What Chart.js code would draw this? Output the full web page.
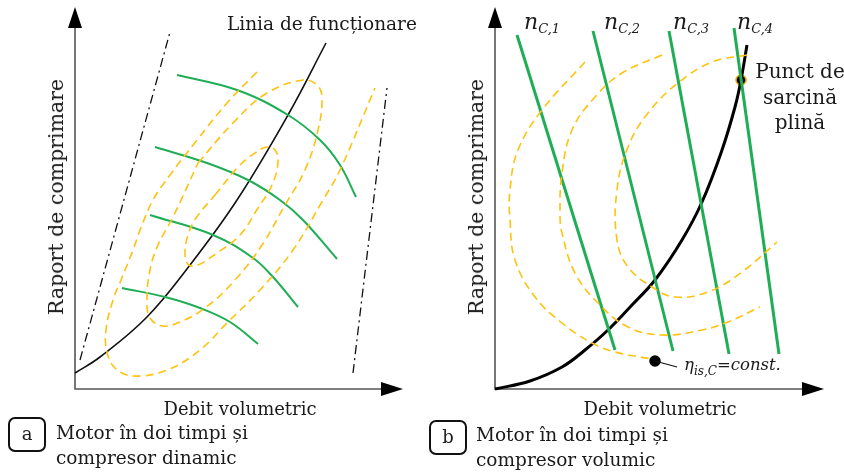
<!DOCTYPE html>
<html>
<head>
<meta charset="utf-8">
<script src="https://cdn.jsdelivr.net/npm/chart.js@4.4.0/dist/chart.umd.min.js"></script>
<style>
  body { margin: 0; background: #fff; }
  #wrap { position: relative; width: 844px; height: 473px; font-family: "DejaVu Serif", serif; color: #1a1a1a; }
  canvas { position: absolute; top: 0; }
  .t { position: absolute; white-space: nowrap; line-height: 24px; }
  .ytitle { position: absolute; white-space: nowrap; font-size: 20.5px; transform: translate(-50%, -50%) rotate(-90deg); }
  .xtitle { position: absolute; white-space: nowrap; font-size: 18px; transform: translate(-50%, -50%); }
  .box { position: absolute; width: 34px; height: 31px; border: 2px solid #111; border-radius: 7px; text-align: center; line-height: 30px; font-size: 18px; }
  .cap { position: absolute; white-space: nowrap; font-size: 18.5px; line-height: 25px; }
  .n { position: absolute; font-style: italic; font-size: 22px; white-space: nowrap; }
  .n sub { font-size: 13px; vertical-align: -4px; }
  .eta { position: absolute; font-style: italic; font-size: 16.5px; white-space: nowrap; }
  .eta sub { font-size: 12px; vertical-align: -5px; }
</style>
</head>
<body>
<div id="wrap">
  <canvas id="chartA" width="422" height="473" style="left:0"></canvas>
  <canvas id="chartB" width="422" height="473" style="left:422px"></canvas>

  <div class="ytitle" style="left:56px; top:197px">Raport de comprimare</div>
  <div class="xtitle" style="left:240px; top:408px">Debit volumetric</div>
  <div class="t" style="left:227px; top:12px; font-size:18.5px">Linia de funcționare</div>
  <div class="box" style="left:8px; top:417px">a</div>
  <div class="cap" style="left:56px; top:420px">Motor în doi timpi și<br>compresor dinamic</div>

  <div class="ytitle" style="left:476px; top:197px">Raport de comprimare</div>
  <div class="xtitle" style="left:660px; top:408px">Debit volumetric</div>
  <div class="n" style="left:524px; top:9px">n<sub>C,1</sub></div>
  <div class="n" style="left:604px; top:9px">n<sub>C,2</sub></div>
  <div class="n" style="left:673px; top:9px">n<sub>C,3</sub></div>
  <div class="n" style="left:737px; top:9px">n<sub>C,4</sub></div>
  <div class="cap" style="left:800px; top:59px; transform:translateX(-50%); text-align:center; font-size:20px; line-height:25.5px">Punct de<br>sarcină<br>plină</div>
  <div class="eta" style="left:684px; top:355px">η<sub>is,C</sub>=const.</div>
  <div class="box" style="left:429px; top:420px">b</div>
  <div class="cap" style="left:476px; top:422px">Motor în doi timpi și<br>compresor volumic</div>
</div>

<script>
// Axe (unitati arbitrare, originea in coltul axelor)
const axisA = { xMax: 328, yMax: 382 };
const axisB = { xMax: 329, yMax: 382 };

// Panoul a - compresor dinamic
const operatingLineA = [[0, 16], [25, 32], [72, 72], [115, 124], [162, 189], [213, 274], [251, 346]];
const surgeLineA = [[5, 29], [95, 357]];
const chokeLineA = [[278, 16], [312, 301]];
const speedLinesA = [
  [[102, 314], [162, 299], [213, 274], [245, 249], [265, 224], [281, 192]],
  [[80, 242], [132, 226], [173, 209], [205, 189], [228, 169], [262, 130]],
  [[75, 174], [138, 154], [178, 131], [198, 112], [223, 82]],
  [[47, 101], [90, 92], [125, 81], [155, 67], [183, 45]]
];
const effOuterA = [[182, 317], [152, 286], [122, 249], [95, 214], [78, 189], [65, 159], [58, 139], [46, 109],
  [38, 89], [31, 59], [32, 37], [40, 21], [58, 13], [92, 19], [125, 39], [152, 66], [185, 99], [218, 139],
  [248, 189], [265, 219], [300, 301]];
const effMiddleA = [[123, 226], [158, 266], [192, 296], [228, 309], [242, 304], [247, 292], [243, 259],
  [230, 219], [210, 184], [187, 144], [160, 109], [130, 81], [105, 67], [88, 63], [75, 71], [72, 89],
  [75, 119], [83, 144], [98, 172], [123, 226]];
const effInnerA = [[140, 194], [165, 224], [180, 236], [192, 242], [200, 239], [203, 227], [197, 204],
  [183, 181], [165, 154], [142, 136], [123, 124], [114, 124], [110, 134], [113, 154], [121, 171], [140, 194]];

// Panoul b - compresor volumic
const operatingLineB = [[0, 0], [35, 8], [67, 22], [90, 39], [113, 59], [137, 84], [160, 109], [187, 149],
  [207, 187], [227, 239], [240, 282], [246, 309], [252, 344]];
const speedLinesB = [
  [[22, 354], [120, 39]],
  [[98, 358], [178, 38]],
  [[174, 358], [234, 35]],
  [[239, 361], [284, 35]]
];
const effOuterB = [[90, 327], [47, 279], [23, 239], [15, 199], [15, 169], [20, 129], [40, 92], [67, 66],
  [97, 46], [120, 37], [157, 30]];
const effMiddleB = [[167, 334], [127, 316], [100, 292], [77, 259], [67, 216], [65, 176], [67, 156], [80, 116],
  [103, 86], [133, 62], [167, 54], [207, 59], [233, 67], [265, 82]];
const effInnerB = [[252, 334], [217, 327], [183, 306], [153, 276], [133, 242], [122, 199], [122, 149],
  [133, 122], [157, 102], [180, 92], [213, 97], [247, 117], [282, 147]];
const fullLoadPoint = [[246, 309]];
const etaPoint = [[160, 28]];
const etaLeader = [[160, 28], [182, 22]];

const GREEN = '#1fae55';
const ORANGE = '#ffc20e';

const pts = arr => arr.map(([x, y]) => ({ x, y }));

function line(data, color, width, extra) {
  return Object.assign({
    data: pts(data), borderColor: color, borderWidth: width,
    pointRadius: 0, fill: false, clip: false, tension: 0
  }, extra || {});
}

function dot(data, fillColor, edgeColor) {
  return {
    data: pts(data), showLine: false, pointRadius: 5, pointBackgroundColor: fillColor,
    pointBorderColor: edgeColor, pointBorderWidth: 1.5, clip: false
  };
}

// axe cu sageti, desenate din scalele graficului
const axesPlugin = {
  id: 'axes',
  beforeDatasetsDraw(chart) {
    const { ctx, scales: { x, y } } = chart;
    const x0 = x.getPixelForValue(0), y0 = y.getPixelForValue(0);
    const x1 = x.getPixelForValue(x.max), y1 = y.getPixelForValue(y.max);
    ctx.save();
    ctx.strokeStyle = '#555';
    ctx.lineWidth = 1.6;
    ctx.beginPath();
    ctx.moveTo(x0, y1 + 15);
    ctx.lineTo(x0, y0);
    ctx.lineTo(x1 - 15, y0);
    ctx.stroke();
    ctx.fillStyle = '#000';
    ctx.beginPath();
    ctx.moveTo(x0, y1); ctx.lineTo(x0 - 7, y1 + 21); ctx.lineTo(x0 + 7, y1 + 21);
    ctx.closePath(); ctx.fill();
    ctx.beginPath();
    ctx.moveTo(x1, y0); ctx.lineTo(x1 - 22, y0 - 7); ctx.lineTo(x1 - 22, y0 + 7);
    ctx.closePath(); ctx.fill();
    ctx.restore();
  }
};

function options(axis, padding) {
  return {
    responsive: false,
    animation: false,
    layout: { padding: padding },
    plugins: { legend: { display: false }, tooltip: { enabled: false } },
    scales: {
      x: { type: 'linear', min: 0, max: axis.xMax, display: false },
      y: { type: 'linear', min: 0, max: axis.yMax, display: false }
    }
  };
}

const dash = [8, 5];
const dashDot = [9, 4, 2, 4];

new Chart(document.getElementById('chartA'), {
  type: 'line',
  data: {
    datasets: [
      line(surgeLineA, '#111', 1.3, { borderDash: dashDot }),
      line(chokeLineA, '#111', 1.3, { borderDash: dashDot }),
      line(effOuterA, ORANGE, 1.6, { borderDash: dash, tension: 0.4 }),
      line(effMiddleA, ORANGE, 1.6, { borderDash: dash, tension: 0.4 }),
      line(effInnerA, ORANGE, 1.6, { borderDash: dash, tension: 0.4 }),
      ...speedLinesA.map(s => line(s, GREEN, 2, { tension: 0.4 })),
      line(operatingLineA, '#111', 1.6, { tension: 0.4 })
    ]
  },
  options: options(axisA, { left: 75, right: 19, top: 7, bottom: 84 }),
  plugins: [axesPlugin]
});

new Chart(document.getElementById('chartB'), {
  type: 'line',
  data: {
    datasets: [
      line(effOuterB, ORANGE, 1.6, { borderDash: dash, tension: 0.4 }),
      line(effMiddleB, ORANGE, 1.6, { borderDash: dash, tension: 0.4 }),
      line(effInnerB, ORANGE, 1.6, { borderDash: dash, tension: 0.4 }),
      ...speedLinesB.map(s => line(s, GREEN, 3)),
      line(operatingLineB, '#000', 3, { tension: 0.4 }),
      line(etaLeader, '#111', 1.2),
      dot(etaPoint, '#000', '#000'),
      dot(fullLoadPoint, '#000', '#f0a500')
    ]
  },
  options: options(axisB, { left: 73, right: 20, top: 7, bottom: 84 }),
  plugins: [axesPlugin]
});
</script>
</body>
</html>
